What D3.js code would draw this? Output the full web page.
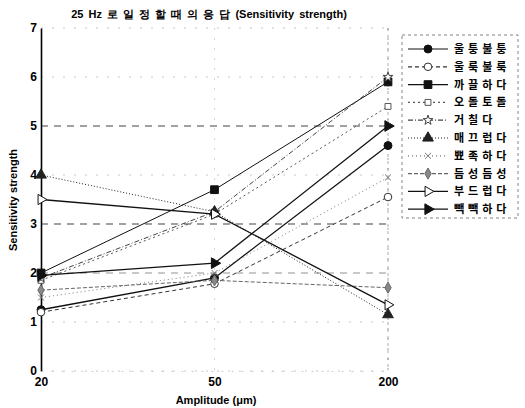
<!DOCTYPE html>
<html><head><meta charset="utf-8">
<script src="https://cdn.jsdelivr.net/npm/d3@7"></script>
<style>body{margin:0;background:#fff}svg{display:block}</style>
</head><body>
<script>
const categories = ["20", "50", "200"];
const yTicks = [0, 1, 2, 3, 4, 5, 6, 7];
const seriesNames = ["울퉁불퉁", "울룩불룩", "까끌하다", "오돌토돌", "거칠다", "매끄럽다", "뾰족하다", "듬성듬성", "부드럽다", "빽빽하다"];
const s1 = [1.25, 1.9, 4.6];
const s2 = [1.2, 1.78, 3.55];
const s3 = [2.0, 3.7, 5.9];
const s4 = [1.85, 3.2, 5.4];
const s5 = [1.9, 3.25, 6.0];
const s6 = [4.0, 3.25, 1.15];
const s7 = [1.5, 2.0, 3.95];
const s8 = [1.65, 1.85, 1.7];
const s9 = [3.5, 3.2, 1.35];
const s10 = [1.95, 2.2, 5.0];
const seriesValues = [s1, s2, s3, s4, s5, s6, s7, s8, s9, s10];

const markerType = ["circle", "circleOpen", "square", "squareOpen", "star", "triangle", "cross", "diamond", "rightOpen", "right"];
const dashes = [null, "4,3", null, "2,3", "5,2,1,2", "1,2", "1,3", "4,2", null, null];
const strokes = ["#111", "#333", "#111", "#555", "#444", "#222", "#777", "#666", "#111", "#111"];

const W = 525, H = 408;
const svg = d3.select("body").append("svg").attr("width", W).attr("height", H)
  .style("font-family", "Arial, 'Liberation Sans', sans-serif");

const x = d3.scalePoint().domain(categories).range([41, 388]);
const y = d3.scaleLinear().domain([0, 7]).range([371, 28]);

// grid
const grid = svg.append("g");
yTicks.forEach(t => {
  const strong = (t === 5 || t === 3);
  const mid = (t === 2);
  grid.append("line").attr("x1", 41).attr("x2", 388).attr("y1", y(t)).attr("y2", y(t))
    .attr("stroke", strong ? "#444" : mid ? "#777" : "#bbb").attr("stroke-width", strong ? 1.2 : 0.8)
    .attr("stroke-dasharray", strong || mid ? "7,6" : "2,9");
});
categories.forEach(c => {
  if (c === "20") return;
  grid.append("line").attr("x1", x(c)).attr("x2", x(c)).attr("y1", y(7)).attr("y2", y(0))
    .attr("stroke", c === "200" ? "#888" : "#ccc").attr("stroke-width", 0.8).attr("stroke-dasharray", "2,8");
});
svg.append("line").attr("x1", 388).attr("x2", 388).attr("y1", y(7)).attr("y2", y(0))
  .attr("stroke", "#999").attr("stroke-width", 0.8).attr("stroke-dasharray", "3,4");

// axes
const yAxis = d3.axisLeft(y).tickValues(yTicks).tickSize(0).tickPadding(4).tickFormat(d3.format("d"));
const gy = svg.append("g").attr("transform", "translate(41,0)").call(yAxis);
gy.select(".domain").attr("stroke", "#000").attr("stroke-width", 1.6);
gy.selectAll("text").attr("font-size", 12).attr("font-weight", "bold").attr("fill", "#000");

const xAxis = d3.axisBottom(x).tickSize(0).tickPadding(6);
const gx = svg.append("g").attr("transform", `translate(0,${y(0)})`).call(xAxis);
gx.select(".domain").attr("stroke", "#ccc").attr("stroke-dasharray", "2,8");
gx.selectAll("text").attr("font-size", 12).attr("font-weight", "bold").attr("fill", "#000");

// labels
svg.append("text").attr("x", 209).attr("y", 18).attr("text-anchor", "middle")
  .attr("font-size", 11).attr("font-weight", "bold").attr("word-spacing", 2)
  .text("25 Hz 로 일 정 할 때 의 응 답 (Sensitivity strength)");
svg.append("text").attr("x", 216).attr("y", 404).attr("text-anchor", "middle")
  .attr("font-size", 11).attr("font-weight", "bold").text("Amplitude (μm)");
svg.append("text").attr("transform", "translate(17,200) rotate(-90)").attr("text-anchor", "middle")
  .attr("font-size", 11).attr("font-weight", "bold").text("Sensitivity strength");

function drawMarker(g, type, cx, cy, stroke) {
  const S = d3.symbol();
  let path, fill = stroke, rot = 0;
  switch (type) {
    case "circle": path = S.type(d3.symbolCircle).size(50)(); break;
    case "circleOpen": path = S.type(d3.symbolCircle).size(45)(); fill = "#fff"; break;
    case "square": path = S.type(d3.symbolSquare).size(60)(); break;
    case "squareOpen": path = S.type(d3.symbolSquare).size(35)(); fill = "#fff"; break;
    case "star": path = S.type(d3.symbolStar).size(30)(); fill = "#fff"; break;
    case "triangle": path = S.type(d3.symbolTriangle).size(50)(); break;
    case "cross": path = S.type(d3.symbolTimes).size(25)(); fill = "none"; break;
    case "diamond": path = S.type(d3.symbolDiamond).size(35)(); fill = "#888"; break;
    case "rightOpen": path = S.type(d3.symbolTriangle).size(45)(); fill = "#fff"; rot = 90; break;
    case "right": path = S.type(d3.symbolTriangle).size(50)(); rot = 90; break;
  }
  g.append("path").attr("d", path).attr("transform", `translate(${cx},${cy}) rotate(${rot})`)
    .attr("fill", fill).attr("stroke", stroke).attr("stroke-width", 1);
}

const line = d3.line().x((d, i) => x(categories[i])).y(d => y(d));
const plot = svg.append("g");
seriesValues.forEach((vals, k) => {
  plot.append("path").datum(vals).attr("d", line).attr("fill", "none")
    .attr("stroke", strokes[k]).attr("stroke-width", k === 0 || k === 8 || k === 9 ? 1.3 : 1)
    .attr("stroke-dasharray", dashes[k]);
});
seriesValues.forEach((vals, k) => {
  vals.forEach((v, i) => drawMarker(plot, markerType[k], x(categories[i]), y(v), strokes[k]));
});

// legend
const lg = svg.append("g");
lg.append("rect").attr("x", 402).attr("y", 35).attr("width", 116).attr("height", 183)
  .attr("fill", "#fff").attr("stroke", "#666").attr("stroke-width", 0.8).attr("stroke-dasharray", "3,3");
seriesNames.forEach((name, k) => {
  const ly = 49 + k * 17.8;
  lg.append("line").attr("x1", 408).attr("x2", 448).attr("y1", ly).attr("y2", ly)
    .attr("stroke", strokes[k]).attr("stroke-width", 1.2).attr("stroke-dasharray", dashes[k]);
  drawMarker(lg, markerType[k], 428, ly, strokes[k]);
  lg.append("text").attr("x", 454).attr("y", ly + 4).attr("font-size", 11).attr("font-weight", "bold")
    .attr("letter-spacing", 4).attr("font-family", "'Noto Sans CJK KR', sans-serif").text(name);
});
</script>
</body></html>
